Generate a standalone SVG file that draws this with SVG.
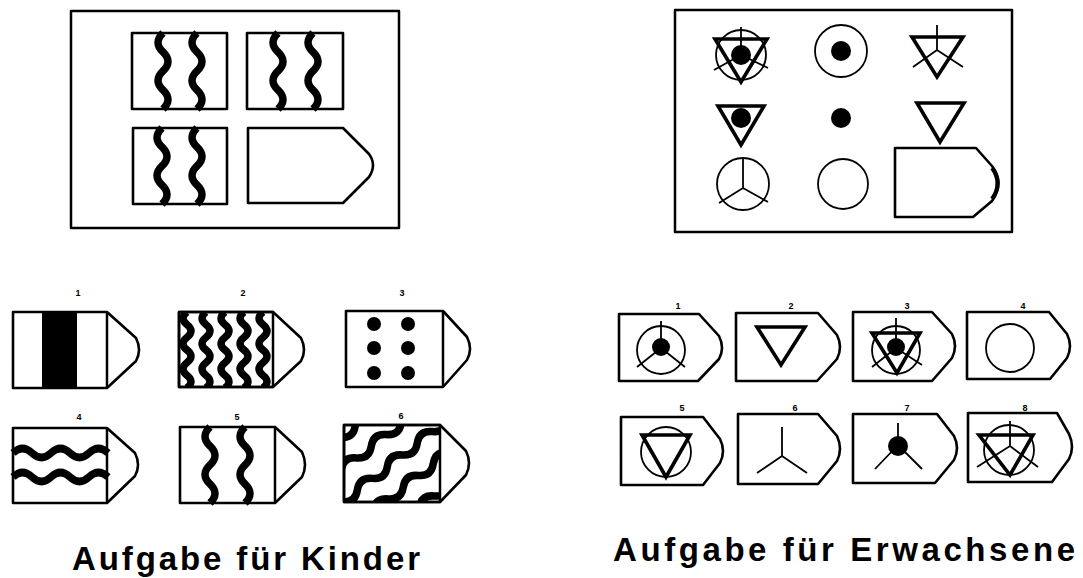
<svg xmlns="http://www.w3.org/2000/svg" width="1083" height="578" viewBox="0 0 1083 578">
<style>
.fr{fill:none;stroke:#000;stroke-width:2.5;stroke-linejoin:round}
.sh{fill:#fff;stroke:#000;stroke-width:2.6;stroke-linejoin:round}
.wv{fill:none;stroke:#000;stroke-width:7.5;stroke-linecap:butt}
.wd{fill:none;stroke:#000;stroke-width:7.5}
.th{fill:none;stroke:#000;stroke-width:1.8}
.tk{fill:none;stroke:#000;stroke-width:3.6;stroke-linejoin:miter}
.dt{fill:#000}
.num{font-family:"Liberation Sans",Arial,sans-serif;font-weight:bold;font-size:9px;fill:#000;text-anchor:middle}
.ttl{font-family:"Liberation Sans",Arial,sans-serif;font-weight:bold;font-size:33px;fill:#000}
</style>
<defs>
<path id="vw" d="M0,0 q-10,9.5 0,19 t0,19 t0,19 t0,19"/>
<path id="vw2" d="M0,0 q-8,6.33 0,12.67 t0,12.67 t0,12.67 t0,12.67 t0,12.67 t0,12.67"/>
<path id="dw" d="M-120,0 q9.5,-9 19,0 t19,0 t19,0 t19,0 t19,0 t19,0 t19,0 t19,0 t19,0 t19,0 t19,0 t19,0 t19,0"/>
<clipPath id="c6"><rect x="344" y="425" width="96" height="77"/></clipPath>
<clipPath id="c2"><rect x="179" y="312" width="94" height="75"/></clipPath>
</defs>

<g id="frame-kinder">
<rect class="fr" x="71" y="11" width="328" height="217"/>
</g>
<g id="matrix-kinder">
<g id="cell-k1"><rect class="sh" x="132" y="33" width="95" height="76"/><use href="#vw" class="wv" x="163" y="33"/><use href="#vw" class="wv" x="197" y="33"/></g>
<g id="cell-k2"><rect class="sh" x="247" y="33" width="96" height="76"/><use href="#vw" class="wv" x="278" y="33"/><use href="#vw" class="wv" x="313" y="33"/></g>
<g id="cell-k3"><rect class="sh" x="133" y="128" width="94" height="76"/><use href="#vw" class="wv" x="162" y="128"/><use href="#vw" class="wv" x="197" y="128"/></g>
<g id="cell-k4"><path class="sh" d="M248,128 H343 L369,154 Q377,165 369,177 L343,203 H248 Z"/></g>
</g>

<g id="frame-erw">
<rect class="fr" x="675" y="10" width="337" height="222"/>
</g>
<g id="matrix-erw">
<g id="m11"><circle class="th" cx="741" cy="55" r="25"/><path class="tk" d="M715,39 H767 L741,82 Z"/><path class="th" d="M741,27 V55 M741,55 L714,70 M741,55 L768,68"/><circle class="dt" cx="741" cy="55" r="10"/></g>
<g id="m12"><circle class="th" cx="841" cy="51" r="26"/><circle class="dt" cx="841" cy="51" r="10"/></g>
<g id="m13"><path class="tk" d="M912,37 H963 L937,77 Z"/><path class="th" d="M937,25 V50 M937,50 L913,67 M937,50 L963,67"/></g>
<g id="m21"><path class="tk" d="M718,106 H764 L741,145 Z"/><circle class="dt" cx="741" cy="118" r="10"/></g>
<g id="m22"><circle class="dt" cx="841" cy="118" r="10"/></g>
<g id="m23"><path class="tk" d="M917,103 H964 L940,142 Z"/></g>
<g id="m31"><circle class="th" cx="743" cy="184" r="26"/><path class="th" d="M743,158 V188 M743,188 L719,203 M743,188 L768,202"/></g>
<g id="m32"><circle class="th" cx="843" cy="184" r="25"/></g>
<g id="m33"><path class="sh" d="M895,148 H976 L992,166 Q1005,183 992,201 L973,217 H895 Z"/><path d="M992,168 Q1003,183 992,199" fill="none" stroke="#000" stroke-width="4"/></g>
</g>

<g id="options-kinder">
<g id="ok1"><path class="sh" d="M13,312 H107 L136,338 Q142,350 136,361 L107,388 H13 Z"/><rect x="42" y="312" width="35" height="76" fill="#000"/><path class="fr" d="M107,312 V388"/><text class="num" x="78" y="296">1</text></g>
<g id="ok2"><path class="sh" d="M179,312 H273 L301,338 Q307,350 301,361 L273,387 H179 Z"/>
<g clip-path="url(#c2)"><use href="#vw2" class="wd" x="187" y="312"/><use href="#vw2" class="wd" x="206" y="312"/><use href="#vw2" class="wd" x="225" y="312"/><use href="#vw2" class="wd" x="244" y="312"/><use href="#vw2" class="wd" x="263" y="312"/></g>
<path class="fr" d="M179,312 H273 V387 H179 Z"/><text class="num" x="243" y="296">2</text></g>
<g id="ok3"><path class="sh" d="M346,311 H443 L467,337 Q473,349 467,360 L443,387 H346 Z"/><path class="fr" d="M443,311 V387"/>
<circle class="dt" cx="374" cy="324" r="7"/><circle class="dt" cx="408" cy="324" r="7"/><circle class="dt" cx="374" cy="348" r="7"/><circle class="dt" cx="408" cy="348" r="7"/><circle class="dt" cx="374" cy="373" r="7"/><circle class="dt" cx="408" cy="373" r="7"/>
<text class="num" x="402" y="296">3</text></g>
<g id="ok4"><path class="sh" d="M13,428 H107 L135,453 Q141,465 135,476 L107,503 H13 Z"/><path class="fr" d="M107,428 V503"/>
<path class="wd" d="M13,453 q9.5,-9 19,0 t19,0 t19,0 t19,0 t19,0"/><path class="wd" d="M13,477 q9.5,-9 19,0 t19,0 t19,0 t19,0 t19,0"/>
<text class="num" x="79" y="420">4</text></g>
<g id="ok5"><path class="sh" d="M180,427 H275 L302,452 Q308,465 302,477 L275,503 H180 Z"/><path class="fr" d="M275,427 V503"/>
<use href="#vw" class="wd" x="210" y="427"/><use href="#vw" class="wd" x="245" y="427"/>
<text class="num" x="237" y="420">5</text></g>
<g id="ok6"><path class="sh" d="M344,425 H440 L466,451 Q472,463 466,475 L440,502 H344 Z"/>
<g clip-path="url(#c6)"><g transform="rotate(-38 392 463)">
<use href="#dw" class="wd" x="392" y="411"/><use href="#dw" class="wd" x="392" y="437"/><use href="#dw" class="wd" x="392" y="463"/><use href="#dw" class="wd" x="392" y="489"/><use href="#dw" class="wd" x="392" y="515"/></g></g>
<path class="fr" d="M344,425 H440 V502 H344 Z"/>
<text class="num" x="401" y="419">6</text></g>
</g>

<g id="options-erw">
<g id="oe1"><path class="sh" d="M619,314 H699 L719,336 Q725,348 719,359 L698,381 H619 Z"/><circle class="th" cx="661" cy="350" r="24"/><path class="th" d="M661,321 V348 M661,348 L637,367 M661,348 L685,367"/><circle class="dt" cx="661" cy="347" r="9"/><text class="num" x="678" y="309">1</text></g>
<g id="oe2"><path class="sh" d="M736,313 H818 L837,335 Q843,347 837,359 L817,381 H736 Z"/><path class="tk" d="M757,327 H805 L781,365 Z"/><text class="num" x="791" y="309">2</text></g>
<g id="oe3"><path class="sh" d="M853,312 H932 L952,334 Q958,346 952,358 L932,381 H853 Z"/><circle class="th" cx="896" cy="350" r="24"/><path class="tk" d="M872,333 H920 L897,373 Z"/><path class="th" d="M896,318 V348 M896,348 L872,367 M896,348 L922,365"/><circle class="dt" cx="896" cy="347" r="9"/><text class="num" x="907" y="309">3</text></g>
<g id="oe4"><path class="sh" d="M967,312 H1049 L1067,334 Q1073,346 1067,358 L1050,379 H967 Z"/><circle class="th" cx="1010" cy="348" r="24"/><text class="num" x="1023" y="309">4</text></g>
<g id="oe5"><path class="sh" d="M621,417 H703 L720,439 Q726,451 720,463 L703,485 H621 Z"/><circle class="th" cx="666" cy="452" r="25"/><path class="tk" d="M642,435 H690 L666,477 Z"/><text class="num" x="682" y="411">5</text></g>
<g id="oe6"><path class="sh" d="M738,414 H818 L837,436 Q843,449 837,461 L818,484 H738 Z"/><path class="th" d="M782,427 V456 M782,456 L757,473 M782,456 L807,473"/><text class="num" x="795" y="411">6</text></g>
<g id="oe7"><path class="sh" d="M853,414 H937 L954,436 Q960,448 954,460 L935,483 H853 Z"/><path class="th" d="M898,423 V445 M898,445 L875,469 M898,445 L922,469"/><circle class="dt" cx="898" cy="446" r="10"/><text class="num" x="907" y="411">7</text></g>
<g id="oe8"><path class="sh" d="M968,413 H1057 L1069,434 Q1075,447 1069,459 L1052,482 H968 Z"/><circle class="th" cx="1009" cy="450" r="25"/><path class="tk" d="M979,435 H1033 L1010,475 Z"/><path class="th" d="M1010,421 V446 M1010,446 L977,467 M1010,446 L1038,467"/><text class="num" x="1025" y="411">8</text></g>
</g>

<g id="titles">
<text class="ttl" x="72" y="570" textLength="348" lengthAdjust="spacing">Aufgabe für Kinder</text>
<text class="ttl" x="613" y="561" textLength="462" lengthAdjust="spacing">Aufgabe für Erwachsene</text>
</g>
</svg>
